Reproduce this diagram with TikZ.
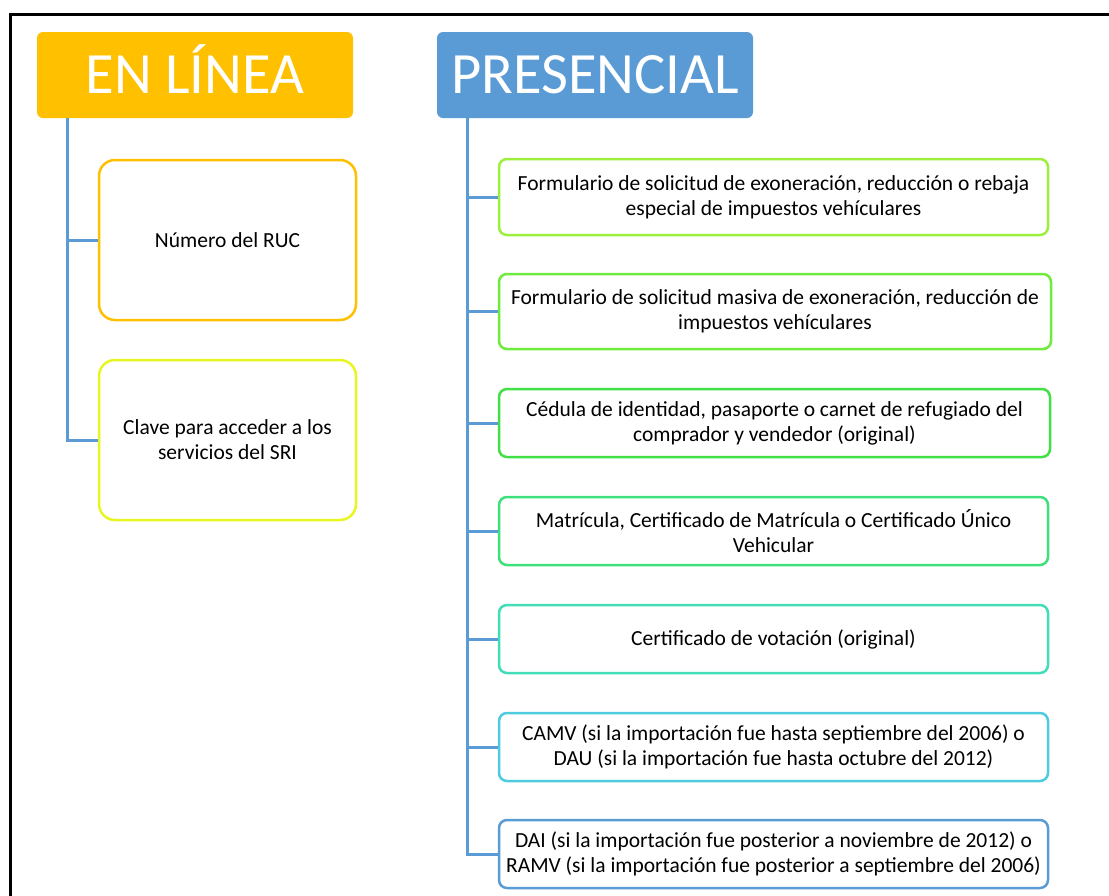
\documentclass[tikz,border=0pt]{standalone}
\usepackage{fontspec}
\setmainfont{Carlito}
\definecolor{cOrange}{HTML}{FFC000}
\definecolor{cBlue}{HTML}{5B9BD5}
\definecolor{cYellow}{HTML}{E6F61E}
\definecolor{cG1}{HTML}{9CF03C}
\definecolor{cG2}{HTML}{6EEB3C}
\definecolor{cG3}{HTML}{42E046}
\definecolor{cG4}{HTML}{3DE07A}
\definecolor{cG5}{HTML}{40DDB8}
\definecolor{cG6}{HTML}{4ECBDE}
\definecolor{cG7}{HTML}{5B9BD5}
\tikzset{
  titlebox/.style={rectangle, rounded corners=6pt, text=white, inner sep=0pt,
    text height=36pt, text depth=0pt,
    minimum width=316pt, minimum height=86pt, font=\fontsize{58.5}{64}\selectfont},
  leftbox/.style={rectangle, rounded corners=16pt, draw=#1, line width=2.5pt, fill=white,
    minimum width=257pt, minimum height=160pt, align=center, inner sep=0pt,
    font=\fontsize{21.5}{25}\selectfont},
  rightbox/.style={rectangle, rounded corners=8pt, draw=#1, line width=2.5pt, fill=white,
    minimum width=549pt, minimum height=68pt, align=center, inner sep=0pt,
    font=\fontsize{21.5}{25}\selectfont},
  conn/.style={draw=cBlue, line width=3pt},
  frame/.style={draw=black, line width=3pt}
}
\begin{document}
\begin{tikzpicture}[x=1pt,y=-1pt]
\useasboundingbox (0,0) rectangle (1109,895);
\coordinate (fbl) at (10,900);
\coordinate (ftl) at (10,14);
\coordinate (ftr) at (1115,14);
\draw[frame] (fbl) -- (ftl) -- (ftr);

\node[titlebox, fill=cOrange] (enl) at (195,75) {EN LÍNEA};
\node[titlebox, fill=cBlue] (pres) at (595,75) {PRESENCIAL};

\node[leftbox=cOrange] (ruc) at (227.5,240) {Número del RUC};
\node[leftbox=cYellow] (clave) at (227.5,440) {Clave para acceder a los\\servicios del SRI};

\node[rightbox=cG1, minimum height=76pt] (r1) at (773.5,197) {Formulario de solicitud de exoneración, reducción o rebaja\\especial de impuestos vehículares};
\node[rightbox=cG2, minimum height=75pt, minimum width=552pt] (r2) at (775,311.5) {Formulario de solicitud masiva de exoneración, reducción de\\impuestos vehículares};
\node[rightbox=cG3, minimum width=551pt] (r3) at (774.5,423) {Cédula de identidad, pasaporte o carnet de refugiado del\\comprador y vendedor (original)};
\node[rightbox=cG4] (r4) at (773.5,531) {Matrícula, Certificado de Matrícula o Certificado Único\\Vehicular};
\node[rightbox=cG5] (r5) at (773.5,639) {Certificado de votación (original)};
\node[rightbox=cG6] (r6) at (773.5,747) {CAMV (si la importación fue hasta septiembre del 2006) o\\DAU (si la importación fue hasta octubre del 2012)};
\node[rightbox=cG7] (r7) at (773.5,854) {DAI (si la importación fue posterior a noviembre de 2012) o\\RAMV (si la importación fue posterior a septiembre del 2006)};

\coordinate (lt) at (67,118);
\coordinate (rt) at (467,118);
\draw[conn] (lt) |- (ruc.west);
\draw[conn] (lt) |- (clave.west);
\foreach \n in {r1,r2,r3,r4,r5,r6,r7}{
  \draw[conn] (rt) |- (\n.west);
}
\end{tikzpicture}
\end{document}
